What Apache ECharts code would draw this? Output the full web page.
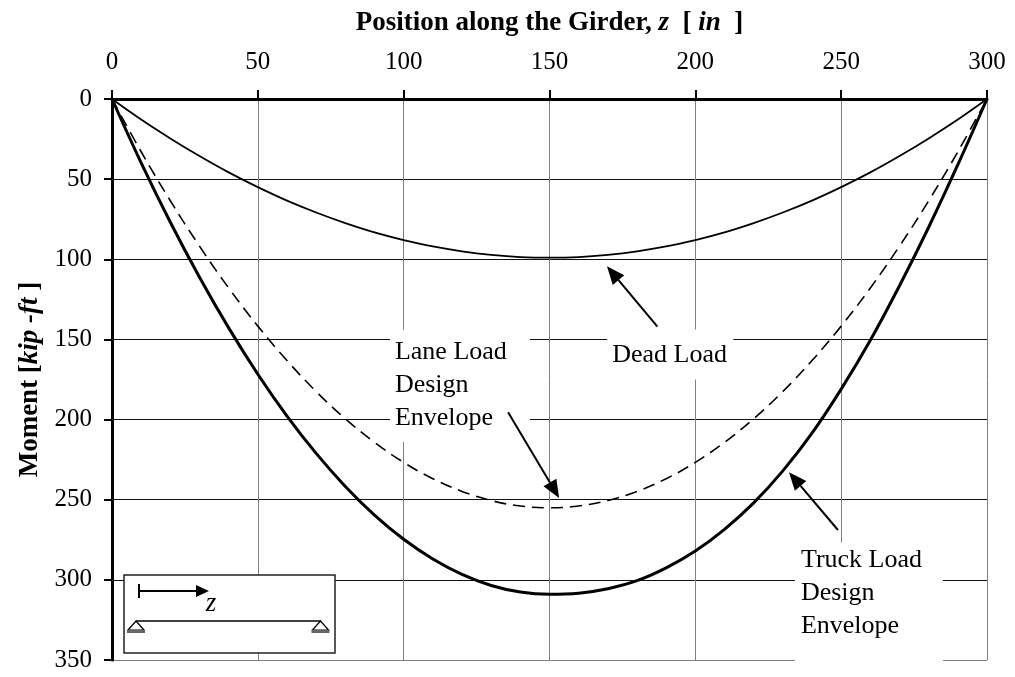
<!DOCTYPE html>
<html>
<head>
<meta charset="utf-8">
<script src="https://cdn.jsdelivr.net/npm/echarts@6/dist/echarts.min.js"></script>
<style>
  html, body { margin: 0; padding: 0; background: #fff; }
  #chart { width: 1015px; height: 677px; }
</style>
</head>
<body>
<div id="chart"></div>
<script>
// Position along the girder, z [in]
const positionIn = [0, 10, 20, 30, 40, 50, 60, 70, 80, 90, 100, 110, 120, 130, 140, 150,
                    160, 170, 180, 190, 200, 210, 220, 230, 240, 250, 260, 270, 280, 290, 300];

// Moment [kip-ft]
const deadLoad = [0, 12.8, 24.6, 35.6, 45.8, 55.0, 63.4, 70.8, 77.4, 83.2, 88.0, 92.0, 95.0, 97.2, 98.6, 99.0,
                  98.6, 97.2, 95.0, 92.0, 88.0, 83.2, 77.4, 70.8, 63.4, 55.0, 45.8, 35.6, 24.6, 12.8, 0];
const laneEnvelope = [0, 32.9, 63.5, 91.8, 117.9, 141.7, 163.2, 182.5, 199.5, 214.2, 226.7, 236.9, 244.8, 250.5, 253.9, 255.0,
                      253.9, 250.5, 244.8, 236.9, 226.7, 214.2, 199.5, 182.5, 163.2, 141.7, 117.9, 91.8, 63.5, 32.9, 0];
const truckEnvelope = [0, 39.8, 76.9, 111.2, 142.8, 171.7, 197.8, 221.1, 241.7, 259.6, 274.7, 287.0, 296.6, 303.5, 307.6, 309.0,
                       308.3, 305.5, 300.5, 292.5, 282.0, 268.5, 252.0, 232.0, 208.5, 181.0, 150.5, 116.5, 80.0, 41.0, 0];

const xTicks = { min: 0, max: 300, step: 50 };
const yTicks = { min: 0, max: 350, step: 50 };

const SERIF = '"Liberation Serif", "Times New Roman", serif';

function pairs(xs, ys) { return xs.map((x, i) => [x, ys[i]]); }

const chart = echarts.init(document.getElementById('chart'), null, { renderer: 'canvas' });

const titleRich = {
  b: { fontFamily: SERIF, fontSize: 27, fontWeight: 'bold', color: '#000' },
  bi: { fontFamily: SERIF, fontSize: 27, fontWeight: 'bold', fontStyle: 'italic', color: '#000' }
};

chart.setOption({
  backgroundColor: '#fff',
  animation: false,
  grid: { left: 112, top: 99, right: 28, bottom: 17, containLabel: false },
  xAxis: {
    type: 'value', position: 'top',
    min: xTicks.min, max: xTicks.max, interval: xTicks.step,
    name: '{b|Position along the Girder, }{bi|z}{b|  [ }{bi|in}{b|  ]}',
    nameLocation: 'middle', nameGap: 62,
    nameTextStyle: { rich: titleRich },
    axisLine: { show: true, onZero: false, lineStyle: { color: '#000', width: 3 } },
    axisTick: { show: true, inside: false, length: 9, lineStyle: { color: '#000', width: 2 } },
    axisLabel: { fontFamily: SERIF, fontSize: 25, color: '#000', margin: 24 },
    splitLine: { show: true, lineStyle: { color: '#808080', width: 1 } }
  },
  yAxis: {
    type: 'value', inverse: true,
    min: yTicks.min, max: yTicks.max, interval: yTicks.step,
    name: '{b|Moment [}{bi|kip -ft}{b| ]}',
    nameLocation: 'middle', nameGap: 66, nameRotate: 90,
    nameTextStyle: { rich: titleRich },
    axisLine: { show: true, onZero: false, lineStyle: { color: '#000', width: 3 } },
    axisTick: { show: true, inside: false, length: 8, lineStyle: { color: '#000', width: 2 } },
    axisLabel: { fontFamily: SERIF, fontSize: 25, color: '#000', margin: 20 },
    splitLine: {
      show: true,
      lineStyle: { color: ['#111', '#111', '#111', '#111', '#111', '#111', '#111', '#808080'], width: 1 }
    }
  },
  series: [
    {
      name: 'Dead Load', type: 'line', data: pairs(positionIn, deadLoad),
      smooth: 0.4, symbol: 'none', z: 3,
      lineStyle: { color: '#000', width: 1.8, join: 'round' }
    },
    {
      name: 'Lane Load Design Envelope', type: 'line', data: pairs(positionIn, laneEnvelope),
      smooth: 0.4, symbol: 'none', z: 3,
      lineStyle: { color: '#000', width: 1.6, type: [12, 7], join: 'round' }
    },
    {
      name: 'Truck Load Design Envelope', type: 'line', data: pairs(positionIn, truckEnvelope),
      smooth: 0.4, symbol: 'none', z: 3,
      lineStyle: { color: '#000', width: 3, join: 'round' }
    }
  ]
});

// ---- Callouts: text boxes and arrows anchored in data coordinates ----
const px = (z, m) => chart.convertToPixel({ gridIndex: 0 }, [z, m]);

function arrow(from, to, headLen, headHalf, width) {
  const [x0, y0] = px(from[0], from[1]);
  const [x1, y1] = px(to[0], to[1]);
  const dx = x1 - x0, dy = y1 - y0;
  const len = Math.hypot(dx, dy);
  const ux = dx / len, uy = dy / len;
  const bx = x1 - ux * headLen, by = y1 - uy * headLen;
  return [
    { type: 'line', z: 20, shape: { x1: x0, y1: y0, x2: bx, y2: by },
      style: { stroke: '#000', lineWidth: width } },
    { type: 'polygon', z: 20,
      shape: { points: [[x1, y1], [bx - uy * headHalf, by + ux * headHalf], [bx + uy * headHalf, by - ux * headHalf]] },
      style: { fill: '#000' } }
  ];
}

function callout(z, m, text, box) {
  const [x, y] = px(z, m);
  return [
    { type: 'rect', z: 15, shape: { x: x - box[0], y: y - box[1], width: box[2], height: box[3] },
      style: { fill: '#fff' } },
    { type: 'text', z: 16, x: x, y: y,
      style: { text: text, fontFamily: SERIF, fontSize: 26, lineHeight: 33,
               fill: '#000', align: 'left', verticalAlign: 'middle' } }
  ];
}

const g = [];
g.push(...callout(171.5, 160, 'Dead Load', [5, 26, 126, 50]));
g.push(...arrow([187, 142], [169.7, 104.4], 18, 7.5, 2));
g.push(...callout(97, 178.5, 'Lane Load\nDesign\nEnvelope', [5, 55, 140, 112]));
g.push(...arrow([135.8, 195.4], [153.3, 248.9], 18, 7.5, 2));
g.push(...callout(236.2, 308.5, 'Truck Load\nDesign\nEnvelope', [6, 51, 148, 120]));
g.push(...arrow([248.9, 268.9], [232.1, 232.8], 18, 7.5, 2));

// ---- Inset sketch: simply supported girder with z measured from the left support ----
const ox = 124, oy = 575;
g.push({ type: 'rect', z: 15, shape: { x: ox, y: oy, width: 211, height: 78 },
         style: { fill: '#fff', stroke: '#222', lineWidth: 1.5 } });
g.push({ type: 'line', z: 16, shape: { x1: ox + 15, y1: oy + 9, x2: ox + 15, y2: oy + 23 },
         style: { stroke: '#000', lineWidth: 2 } });
g.push({ type: 'line', z: 16, shape: { x1: ox + 15, y1: oy + 16, x2: ox + 73, y2: oy + 16 },
         style: { stroke: '#000', lineWidth: 2 } });
g.push({ type: 'polygon', z: 16, shape: { points: [[ox + 72, oy + 10], [ox + 85, oy + 16], [ox + 72, oy + 22]] },
         style: { fill: '#000' } });
g.push({ type: 'text', z: 16, x: ox + 87, y: oy + 29,
         style: { text: 'z', fontFamily: SERIF, fontSize: 27, fontStyle: 'italic', fill: '#000',
                  align: 'center', verticalAlign: 'middle' } });
g.push({ type: 'line', z: 16, shape: { x1: ox + 12, y1: oy + 46, x2: ox + 197, y2: oy + 46 },
         style: { stroke: '#000', lineWidth: 1.5 } });
[ox + 12, ox + 196.5].forEach(cx => {
  g.push({ type: 'polygon', z: 16,
           shape: { points: [[cx, oy + 46], [cx - 8, oy + 55], [cx + 8, oy + 55]] },
           style: { fill: '#fff', stroke: '#000', lineWidth: 1.2 } });
  g.push({ type: 'rect', z: 16, shape: { x: cx - 9, y: oy + 55, width: 18, height: 3 },
           style: { fill: '#666' } });
});

chart.setOption({ graphic: g });
</script>
</body>
</html>
